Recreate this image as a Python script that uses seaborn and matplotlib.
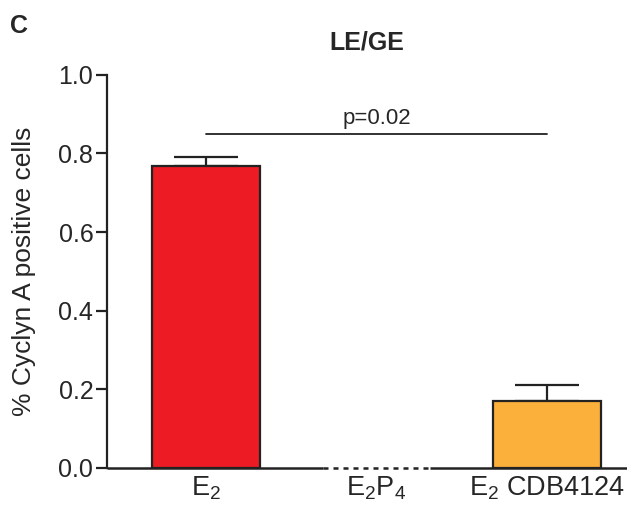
import numpy as np
import pandas as pd
import matplotlib
matplotlib.use('Agg')
import matplotlib.pyplot as plt
import seaborn as sns

groups = ['E$_2$', 'E$_2$P$_4$', 'E$_2$ CDB4124']
means = [0.768, 0.0, 0.170]
sems = [0.022, 0.0, 0.040]
colors = ['#ED1C24', '#FFFFFF', '#FBB03B']
p_text = 'p=0.02'
p_level = 0.85

sns.set_style('ticks')
plt.rcParams['font.family'] = ['Liberation Sans', 'DejaVu Sans']
plt.rcParams['mathtext.fontset'] = 'custom'
plt.rcParams['mathtext.rm'] = 'Liberation Sans'
plt.rcParams['mathtext.it'] = 'Liberation Sans:italic'
plt.rcParams['mathtext.bf'] = 'Liberation Sans:bold'

df = pd.DataFrame({'group': groups, 'value': means})

fig = plt.figure(figsize=(6.27, 5.09), dpi=100)
ax = fig.add_axes([0.171, 0.0806, 0.829, 0.7724])

sns.barplot(x='group', y='value', data=df, hue='group', palette=colors,
            legend=False, errorbar=None, width=0.63, saturation=1, ax=ax,
            edgecolor='#222222', linewidth=1.6, zorder=2)

bars = ax.patches
centers = [b.get_x() + b.get_width() / 2 for b in bars]

# one sided error bars (upper only)
for c, m, s in zip(centers, means, sems):
    if s > 0:
        ax.errorbar(c, m, yerr=[[0], [s]], fmt='none', ecolor='#222222',
                    elinewidth=1.6, capsize=23, capthick=1.6, zorder=1)

ax.set_ylim(0, 1.0)
ax.set_xlim(-0.58, 2.47)
ax.set_yticks([0.0, 0.2, 0.4, 0.6, 0.8, 1.0])
ax.set_yticklabels(['0.0', '0.2', '0.4', '0.6', '0.8', '1.0'])

# baseline: solid except dotted under the empty E2P4 bar
ax.spines['bottom'].set_visible(False)
ax.spines['right'].set_visible(False)
ax.spines['top'].set_visible(False)
ax.spines['left'].set_linewidth(1.6)
ax.spines['left'].set_color('#222222')
empty = bars[1]
x0, x1 = empty.get_x(), empty.get_x() + empty.get_width()
empty.set_visible(False)
ax.hlines(0, -0.58, x0, color='#222222', lw=1.8, clip_on=False, zorder=3)
ax.hlines(0, x1, 2.47, color='#222222', lw=1.8, clip_on=False, zorder=3)
ax.hlines(0, x0, x1, color='#222222', lw=1.8, linestyles=(0, (2, 2)),
          clip_on=False, zorder=3)

ax.tick_params(axis='y', length=8, width=1.6, color='#222222', labelsize=18,
               pad=2)
ax.tick_params(axis='x', length=0, labelsize=19.5, pad=5)
ax.set_xlabel('')
ax.set_ylabel('% Cyclyn A positive cells', fontsize=19, labelpad=16)

# significance line
ax.plot([centers[0], centers[2]], [p_level, p_level], color='#222222', lw=1.3)
ax.text((centers[0] + centers[2]) / 2, p_level + 0.012, p_text,
        ha='center', va='bottom', fontsize=16)

ax.set_title('LE/GE', fontsize=18, fontweight='bold', pad=18)
fig.text(0.016, 0.936, 'C', fontsize=18, fontweight='bold')

fig.savefig('out.png', dpi=100)
